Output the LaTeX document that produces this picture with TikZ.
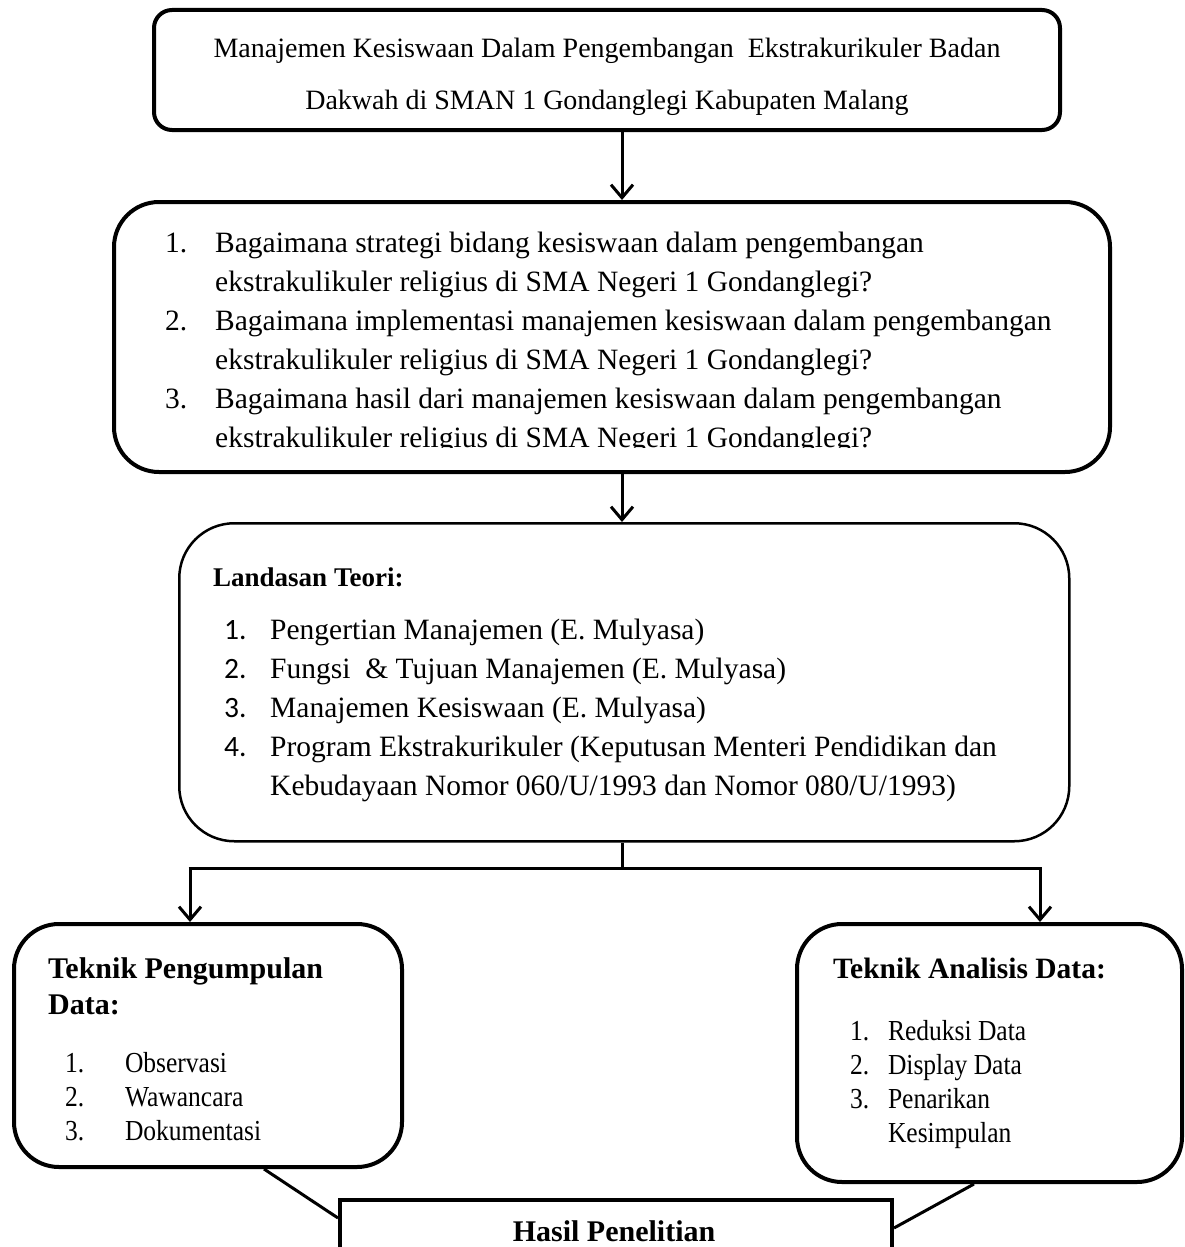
\documentclass[tikz,border=0pt]{standalone}
\usepackage{fontspec}
\setmainfont{Liberation Serif}
\newfontfamily\numfont{Carlito}
\usetikzlibrary{arrows.meta,calc}
\begin{document}
\begin{tikzpicture}[x=1pt,y=1pt,
  rbox/.style={draw, line width=4pt, rounded corners=#1, inner sep=0pt, anchor=north west},
  thinbox/.style={draw, line width=2.5pt, rounded corners=#1, inner sep=0pt, anchor=north west},
  sqbox/.style={draw, line width=4pt, inner sep=0pt, anchor=north west},
  txt/.style={inner sep=0pt, anchor=north west},
  link/.style={line width=3pt},
  arr/.style={line width=3pt, -{Straight Barb[length=13pt, width=22pt, line width=3pt]}}
]
\useasboundingbox (0,0) rectangle (1184,-1247);
\clip (0,0) rectangle (1184,-1247);

% boxes
\node[rbox=18pt, minimum width=906pt, minimum height=120pt] (b1) at (152,-8) {};
\node[rbox=45pt, minimum width=996pt, minimum height=270pt] (b2) at (112,-200) {};
\node[thinbox=55pt, minimum width=890pt, minimum height=318pt] (b3) at (178,-522) {};
\node[rbox=45pt, minimum width=388pt, minimum height=243pt] (b4) at (12,-922) {};
\node[rbox=45pt, minimum width=385pt, minimum height=258pt] (b5) at (795,-922) {};
\node[sqbox, minimum width=552pt, minimum height=80pt] (b6) at (338,-1198) {};

% box 1 text
\node[inner sep=0pt, anchor=north] (t1) at (607,-21) {\fontsize{28}{52}\selectfont
  \begin{tabular}{@{}c@{}}
  Manajemen Kesiswaan Dalam Pengembangan\ \ Ekstrakurikuler Badan\\
  Dakwah di SMAN 1 Gondanglegi Kabupaten Malang
  \end{tabular}};

% box 2 text (clipped at the bottom like the original frame)
\begin{scope}
\clip (120,-205) rectangle (1100,-447);
\node[txt] (t2) at (165,-225) {\fontsize{29.5}{39}\selectfont
  \begin{tabular}{@{}p{50pt}@{}l@{}}
  1. & Bagaimana strategi bidang kesiswaan dalam pengembangan\\
     & ekstrakulikuler religius di SMA Negeri 1 Gondanglegi?\\
  2. & Bagaimana implementasi manajemen kesiswaan dalam pengembangan\\
     & ekstrakulikuler religius di SMA Negeri 1 Gondanglegi?\\
  3. & Bagaimana hasil dari manajemen kesiswaan dalam pengembangan\\
     & ekstrakulikuler religius di SMA Negeri 1 Gondanglegi?
  \end{tabular}};
\end{scope}

% box 3 text
\node[txt] (t3h) at (213,-559) {\fontsize{27}{39}\selectfont\bfseries
  \begin{tabular}{@{}l@{}}Landasan Teori:\end{tabular}};
\node[txt] (t3) at (224,-612) {\fontsize{29.5}{39}\selectfont
  \begin{tabular}{@{}p{46pt}@{}l@{}}
  {\numfont 1.} & Pengertian Manajemen (E. Mulyasa)\\
  {\numfont 2.} & Fungsi\ \ \& Tujuan Manajemen (E. Mulyasa)\\
  {\numfont 3.} & Manajemen Kesiswaan (E. Mulyasa)\\
  {\numfont 4.} & Program Ekstrakurikuler (Keputusan Menteri Pendidikan dan\\
                & Kebudayaan Nomor 060/U/1993 dan Nomor 080/U/1993)
  \end{tabular}};

% box 4 text
\node[txt] (t4h) at (48,-953) {\fontsize{30}{36}\selectfont\bfseries
  \begin{tabular}{@{}l@{}}Teknik Pengumpulan\\Data:\end{tabular}};
\node[txt] (t4) at (65,-1048) {\fontsize{29}{34}\selectfont
  \scalebox{0.88}[1]{\begin{tabular}{@{}p{68pt}@{}l@{}}
  1. & Observasi\\
  2. & Wawancara\\
  3. & Dokumentasi
  \end{tabular}}};

% box 5 text
\node[txt] (t5h) at (833,-953) {\fontsize{29.5}{36}\selectfont\bfseries
  \begin{tabular}{@{}l@{}}Teknik Analisis Data:\end{tabular}};
\node[txt] (t5) at (850,-1016) {\fontsize{29}{34}\selectfont
  \scalebox{0.88}[1]{\begin{tabular}{@{}p{43pt}@{}l@{}}
  1. & Reduksi Data\\
  2. & Display Data\\
  3. & Penarikan\\
     & Kesimpulan
  \end{tabular}}};

% box 6 text
\node[inner sep=0pt, anchor=base] (t6) at (614,-1241) {\fontsize{30}{34}\selectfont\bfseries
  Hasil Penelitian};

% connectors
\coordinate (ax) at (622,0);
\draw[arr] (b1.south -| ax) -- (b2.north -| ax);
\draw[arr] (b2.south -| ax) -- (b3.north -| ax);
\coordinate (split) at (622,-868);
\coordinate (la) at (190,-868);
\coordinate (ra) at (1040,-868);
\draw[link] (b3.south -| split) -- (split);
\draw[link] ([xshift=-1.5pt]la) -- ([xshift=1.5pt]ra);
\draw[arr] (la) -- (la |- b4.north);
\draw[arr] (ra) -- (ra |- b5.north);
\draw[link] ([xshift=252pt]b4.south west) -- ([yshift=-20pt]b6.north west);
\draw[link] ([xshift=-210pt]b5.south east) -- ([yshift=-30pt]b6.north east);
\end{tikzpicture}
\end{document}
